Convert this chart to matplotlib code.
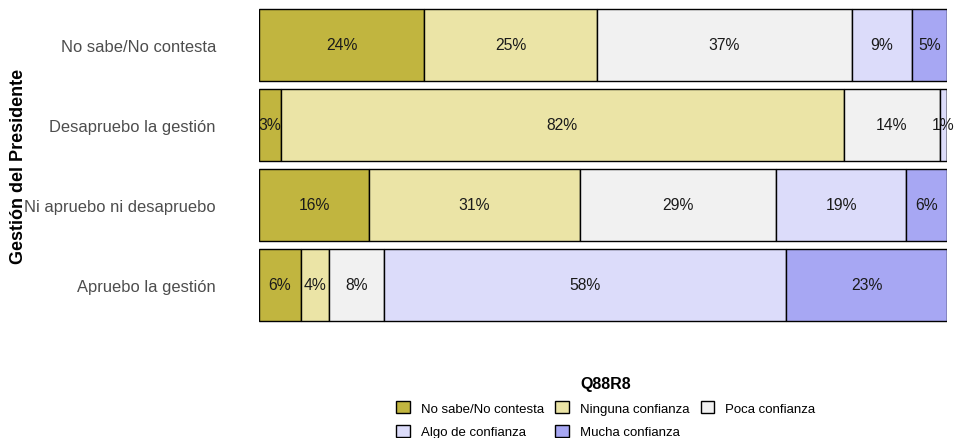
import matplotlib
matplotlib.use('Agg')
import matplotlib.pyplot as plt
from matplotlib.patches import Patch
import numpy as np

plt.rcParams['font.family'] = ['Liberation Sans', 'DejaVu Sans']

# rows, bottom to top
groups = ['Apruebo la gestión', 'Ni apruebo ni desapruebo',
          'Desapruebo la gestión', 'No sabe/No contesta']
answers = ['No sabe/No contesta', 'Ninguna confianza', 'Poca confianza',
           'Algo de confianza', 'Mucha confianza']
# shares in %, one list per answer, same order as groups
no_sabe = [6.1, 16.0, 3.2, 24.0]
ninguna = [4.1, 30.6, 81.8, 25.1]
poca = [8.0, 28.6, 14.0, 37.1]
algo = [58.4, 18.8, 1.0, 8.7]
mucha = [23.4, 6.0, 0.0, 5.1]
colors = ['#c1b53f', '#ebe4a6', '#f1f1f1', '#dcdcfa', '#a7a7f3']

series = [no_sabe, ninguna, poca, algo, mucha]

fig = plt.figure(figsize=(9.55, 4.39), dpi=100)
ax = fig.add_axes([259 / 955, (439 - 326) / 439, 688 / 955, 320 / 439])

y = np.arange(1, len(groups) + 1)
left = np.zeros(len(groups))
for vals, col in zip(series, colors):
    vals = np.array(vals) / 100
    ax.barh(y, vals, left=left, height=0.9, color=col,
            edgecolor='black', linewidth=1)
    for yi, l, v in zip(y, left, vals):
        if v > 0:
            ax.text(l + v / 2, yi, f'{v * 100:.0f}%', ha='center',
                    va='center', fontsize=11.3, color='#1a1a1a')
    left += vals

ax.set_xlim(0, 1)
ax.set_ylim(0.5, 4.5)
ax.set_yticks(y)
ax.set_yticklabels(groups, fontsize=11.9, color='#4d4d4d')
ax.set_xticks([])
ax.tick_params(axis='y', length=0, pad=31)
for s in ax.spines.values():
    s.set_visible(False)
ax.set_ylabel('Gestión del Presidente', fontsize=13, fontweight='bold')
ax.yaxis.set_label_coords(-0.337, 0.5)

handles = [Patch(facecolor=c, edgecolor='black', linewidth=1) for c in colors]
order = [0, 3, 1, 4, 2]
leg = fig.legend([handles[i] for i in order], [answers[i] for i in order],
                 ncol=3, loc='upper center', bbox_to_anchor=(606 / 955, 0.162),
                 frameon=False, fontsize=9.5, title='Q88R8',
                 title_fontproperties={'weight': 'bold', 'size': 11.5},
                 handlelength=1.05, handleheight=1.05, handletextpad=0.83,
                 columnspacing=0.83, labelspacing=0.75, borderpad=0.2)

fig.savefig('out.png', dpi=100, facecolor='white')
